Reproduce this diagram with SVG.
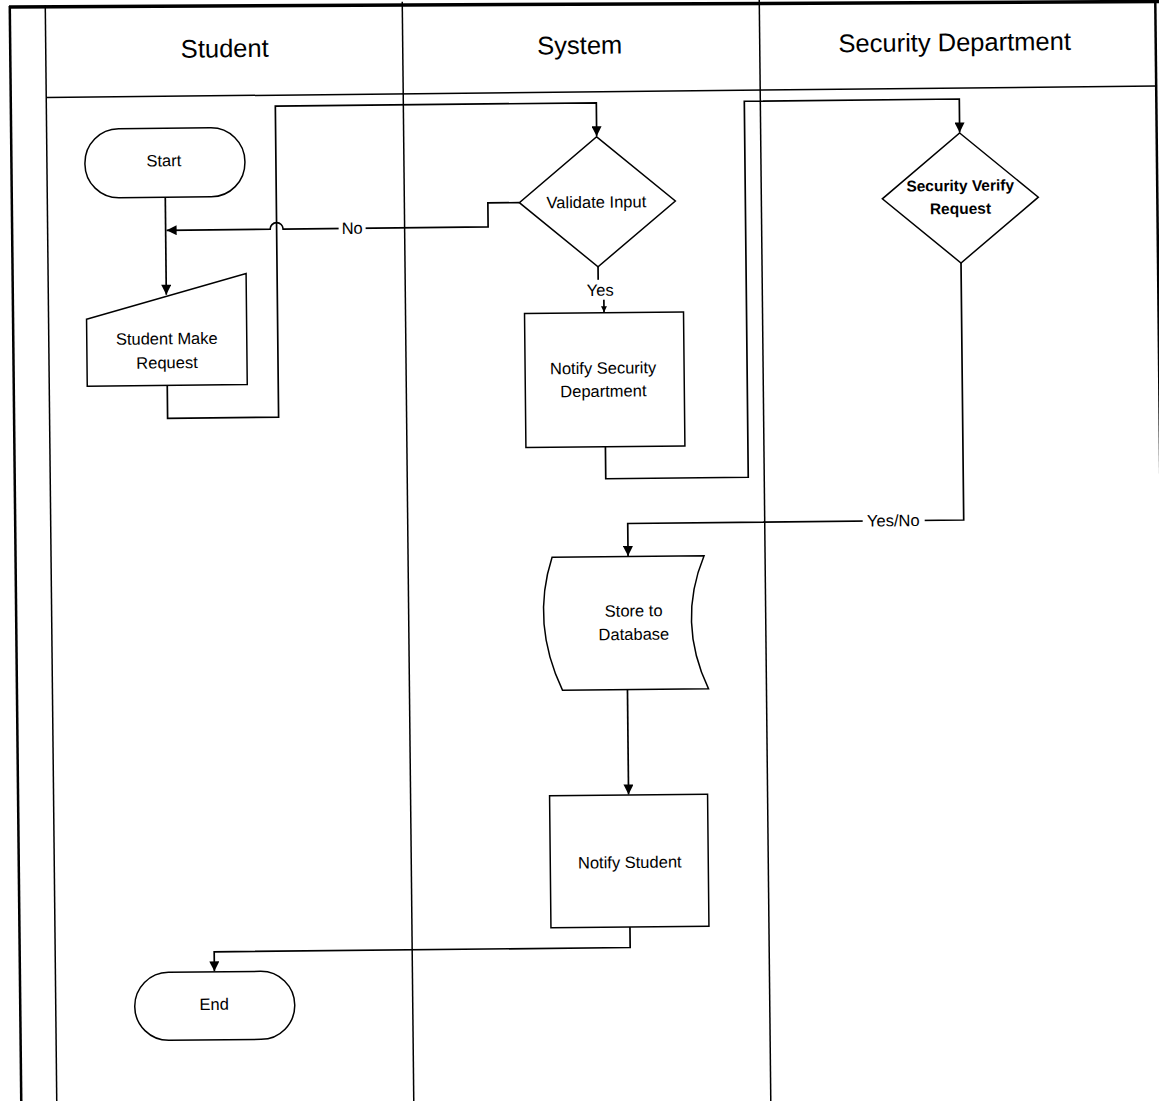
<svg xmlns="http://www.w3.org/2000/svg" width="1159" height="1101" viewBox="0 0 1159 1101">
  <defs>
    <marker id="arrow" viewBox="0 0 10 10" refX="10" refY="5" markerWidth="11" markerHeight="10" markerUnits="userSpaceOnUse" orient="auto">
      <path d="M0,0 L10,5 L0,10 Z" fill="#000"/>
    </marker>
    <marker id="arrow-small" viewBox="0 0 10 10" refX="10" refY="5" markerWidth="7" markerHeight="6" markerUnits="userSpaceOnUse" orient="auto">
      <path d="M0,0 L10,5 L0,10 Z" fill="#000"/>
    </marker>
  </defs>
  <style>
    .lane { fill: none; stroke: #000; stroke-width: 1.5; }
    .frame { fill: none; stroke: #000; stroke-width: 2.5; }
    .node { fill: #fff; stroke: #000; stroke-width: 1.5; }
    .conn { fill: none; stroke: #000; stroke-width: 1.7; }
    .lbl-bg { fill: #fff; stroke: none; }
    .t { font-family: "Liberation Sans", Arial, sans-serif; font-size: 16.5px; text-anchor: middle; fill: #000; }
    .title { font-size: 25.5px; }
    .bold { font-weight: bold; font-size: 15.5px; }
  </style>

  <rect x="0" y="0" width="1159" height="1101" fill="#fff"/>

  <!-- page top edge -->
  <path d="M9,7 L1159,1.5" fill="none" stroke="#000" stroke-width="3.5"/>

  <g transform="rotate(-0.6 580 550)">
    <!-- swimlane frame and headers -->
    <g id="lanes">
      <line class="frame" x1="15.5" y1="0" x2="15.5" y2="1112"/>
      <line class="lane" x1="51" y1="0" x2="51" y2="1112"/>
      <line class="lane" x1="408" y1="0" x2="408" y2="1112"/>
      <line class="lane" x1="765" y1="0" x2="765" y2="1112"/>
      <line class="frame" x1="1161" y1="0" x2="1161" y2="1112"/>
      <line class="lane" x1="51" y1="92" x2="1161" y2="92"/>
      <text class="t title" x="230" y="53.5">Student</text>
      <text class="t title" x="585" y="54">System</text>
      <text class="t title" x="960" y="55">Security Department</text>
    </g>

    <!-- connectors -->
    <g id="connectors">
      <path class="conn" d="M169,193 V290.5" marker-end="url(#arrow)"/>
      <path class="conn" d="M169,381 V414 H280 V103 H601 V136.5" marker-end="url(#arrow)"/>
      <path class="conn" d="M523,202 H491.5 V226 H286.5 A6.5,6.5 0 0 0 273.5,226 H170" marker-end="url(#arrow)"/>
      <path class="conn" d="M601,267 V290 H606.5 V312.5" marker-end="url(#arrow-small)"/>
      <path class="conn" d="M606.5,447 V479 H749 V103 H964 V136.5" marker-end="url(#arrow)"/>
      <path class="conn" d="M964,267 V524 H628 V556.5" marker-end="url(#arrow)"/>
      <path class="conn" d="M626,690 V795" marker-end="url(#arrow)"/>
      <path class="conn" d="M626,927.5 V948 H210 V967.5" marker-end="url(#arrow)"/>

      <g id="label-no">
        <rect class="lbl-bg" x="342" y="216" width="27" height="20"/>
        <text class="t" x="355.5" y="231.5">No</text>
      </g>
      <g id="label-yes">
        <rect class="lbl-bg" x="588" y="280" width="32" height="20"/>
        <text class="t" x="603" y="296">Yes</text>
      </g>
      <g id="label-yesno">
        <rect class="lbl-bg" x="863" y="514" width="62" height="20"/>
        <text class="t" x="893.5" y="529.5">Yes/No</text>
      </g>
    </g>

    <!-- nodes -->
    <g id="node-start">
      <rect class="node" x="89" y="124" width="160" height="69" rx="34" ry="34"/>
      <text class="t" x="168" y="162">Start</text>
    </g>

    <g id="node-student-make-request">
      <polygon class="node" points="89,314 249,270 249,381 89,381"/>
      <text class="t" x="169" y="340">Student Make</text>
      <text class="t" x="169" y="364">Request</text>
    </g>

    <g id="node-validate-input">
      <polygon class="node" points="601,137 679,202 601,267 523,202"/>
      <text class="t" x="600" y="208">Validate Input</text>
    </g>

    <g id="node-notify-security">
      <rect class="node" x="527" y="313" width="159" height="134"/>
      <text class="t" x="605" y="374">Notify Security</text>
      <text class="t" x="605" y="397">Department</text>
    </g>

    <g id="node-security-verify">
      <polygon class="node" points="964,137 1042,202 964,267 886,202"/>
      <text class="t bold" x="964" y="195">Security Verify</text>
      <text class="t bold" x="964" y="218">Request</text>
    </g>

    <g id="node-store-database">
      <path class="node" d="M552,557 H704 Q676,623 707,690 H561 Q530,623 552,557 Z"/>
      <text class="t" x="633" y="617">Store to</text>
      <text class="t" x="633" y="640.5">Database</text>
    </g>

    <g id="node-notify-student">
      <rect class="node" x="547" y="795.5" width="158" height="132"/>
      <text class="t" x="626.5" y="868.5">Notify Student</text>
    </g>

    <g id="node-end">
      <rect class="node" x="130" y="968" width="160" height="68" rx="34" ry="34"/>
      <text class="t" x="209.5" y="1006">End</text>
    </g>
  </g>
</svg>
